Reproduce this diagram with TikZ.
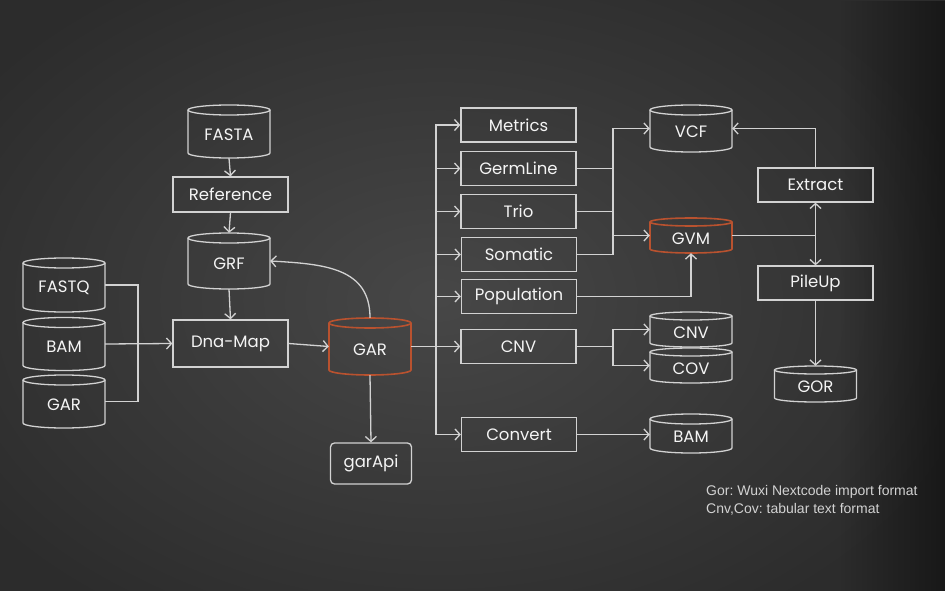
\documentclass[tikz,border=0pt]{standalone}
\usepackage{fontspec}
\setmainfont{Poppins}
\newfontfamily\notefont{Liberation Sans}
\usetikzlibrary{arrows.meta,calc,fadings}
\definecolor{chalk}{HTML}{D2D2D2}
\definecolor{chalktext}{HTML}{F4F4F4}
\definecolor{rust}{HTML}{B9522F}
\definecolor{bgin}{HTML}{474747}
\definecolor{bgout}{HTML}{2C2C2C}
\frenchspacing
\newcommand\mycyl[7]{%
  \node[cylbox, minimum height=#4] (#1) at (#2,-#3) {};
  \node[cyltext] (#1-t) at ([yshift=-3pt]#1.center) {#5};
  \draw[#6] (#2-41,{-#3+#4/2-#7}) -- (#2-41,{-#3-#4/2+#7})
     arc[start angle=180,end angle=360,x radius=41,y radius=#7] -- (#2+41,{-#3+#4/2-#7});
  \draw[#6] (#2,{-#3+#4/2-#7}) ellipse[x radius=41,y radius=#7];
}
\begin{document}
\begin{tikzpicture}[x=1pt,y=1pt,
  cylbox/.style={rectangle, minimum width=82, inner sep=0},
  cyltext/.style={inner sep=0, text=chalktext, font=\fontsize{16.5}{18}\selectfont},
  chalkline/.style={draw=chalk, line width=1.3pt},
  rustline/.style={draw=rust, line width=1.6pt},
  stepbox/.style={rectangle, draw=chalk, line width=1.3pt, minimum width=115, minimum height=34, inner sep=0, text=chalktext, font=\fontsize{16.5}{18}\selectfont},
  link/.style={draw=chalk, line width=1.3pt},
  arr/.style={draw=chalk, line width=1.3pt, -{Straight Barb[length=5pt,width=11pt]}},
]
\useasboundingbox (0,0) rectangle (945,-591);
\shade[inner color=bgin, outer color=bgout] (-120,80) rectangle (1000,-680);
\fill[black, path fading=west, opacity=0.45] (840,0) rectangle (945,-591);

% cylinders
\mycyl{FASTA}{229}{131.5}{53}{FASTA}{chalkline}{5}
\mycyl{GRF}{229}{261}{56}{GRF}{chalkline}{5}
\mycyl{FASTQ}{64}{285}{54}{FASTQ}{chalkline}{5}
\mycyl{BAMl}{64}{344}{53}{BAM}{chalkline}{5}
\mycyl{GARl}{64}{401.5}{53}{GAR}{chalkline}{5}
\mycyl{GAR}{370}{346.5}{57}{GAR}{rustline}{5}
\mycyl{VCF}{691}{128.5}{47}{VCF}{chalkline}{5}
\mycyl{GVM}{691}{235.5}{35}{GVM}{rustline}{4}
\mycyl{CNVc}{691}{329.5}{35}{CNV}{chalkline}{4}
\mycyl{COV}{691}{365.5}{35}{COV}{chalkline}{4}
\mycyl{GOR}{815.5}{384}{36}{GOR}{chalkline}{4}
\mycyl{BAMr}{691}{433.5}{39}{BAM}{chalkline}{5}

% boxes
\node[stepbox, minimum height=35] (Reference) at (230.5,-194.5) {Reference};
\node[stepbox, minimum height=47] (DnaMap) at (230.5,-343.5) {Dna-Map};
\node[stepbox, minimum width=81, minimum height=41, rounded corners=4pt] (garApi) at (371,-463.5) {garApi};
\node[stepbox] (Metrics) at (518.5,-125) {Metrics};
\node[stepbox] (GermLine) at (518.5,-168.5) {GermLine};
\node[stepbox] (Trio) at (518.5,-211.5) {Trio};
\node[stepbox] (Somatic) at (519,-254.5) {Somatic};
\node[stepbox] (Population) at (519,-296.5) {Population};
\node[stepbox] (CNV) at (518.5,-346.5) {CNV};
\node[stepbox] (Convert) at (519,-434.5) {Convert};
\node[stepbox] (Extract) at (815.5,-185) {Extract};
\node[stepbox] (PileUp) at (815.5,-283) {PileUp};

% junction coordinates
\coordinate (jL) at (138,-344);
\coordinate (jBus) at (436,-346.5);
\coordinate (jTop) at (613,-128.5);
\coordinate (jC) at (613,-346.5);
\coordinate (jG) at (815.5,-235.5);

% left part
\draw[arr] (FASTA.south) -- (Reference.north);
\draw[arr] (Reference.south) -- (GRF.north);
\draw[arr] (GRF.south) -- (DnaMap.north);
\draw[link] (FASTQ.east) -| (jL) |- (GARl.east);
\draw[arr] (BAMl.east) -- (DnaMap.west);
\draw[arr] (DnaMap.east) -- (GAR.west);
\draw[arr] (GAR.north) .. controls (370,-268) and (325,-264) .. (GRF.east);
\draw[arr] (GAR.south) -- (garApi.north);

% bus
\draw[link] (GAR.east) -- (jBus);
\foreach \b in {Metrics,GermLine,Trio,Somatic,Population,CNV,Convert}
  \draw[arr] (jBus) |- (\b.west);

% VCF / GVM
\draw[arr] (Somatic.east) -| (jTop) -- (VCF.west);
\draw[link] (GermLine.east) -- (GermLine.east -| jTop);
\draw[link] (Trio.east) -- (Trio.east -| jTop);
\draw[arr] (GVM.west -| jTop) -- (GVM.west);
\draw[arr] (Population.east) -| (GVM.south);

% CNV / COV
\draw[link] (CNV.east) -- (jC);
\draw[arr] (jC) |- (CNVc.west);
\draw[arr] (jC) |- (COV.west);
\draw[arr] (Convert.east) -- (Convert.east -| BAMr.west);

% right part
\draw[link] (GVM.east) -- (jG);
\draw[arr] (jG) -- (Extract.south);
\draw[arr] (jG) -- (PileUp.north);
\draw[arr] (Extract.north) |- (VCF.east);
\draw[arr] (PileUp.south) -- (GOR.north);

% note
\node[anchor=west, inner sep=0, text=chalk, font=\notefont\fontsize{14}{16}\selectfont] (note1) at (706,-492) {Gor: Wuxi Nextcode import format};
\node[anchor=west, inner sep=0, text=chalk, font=\notefont\fontsize{14}{16}\selectfont] (note2) at (706,-509) {Cnv,Cov: tabular text format};
\end{tikzpicture}
\end{document}
